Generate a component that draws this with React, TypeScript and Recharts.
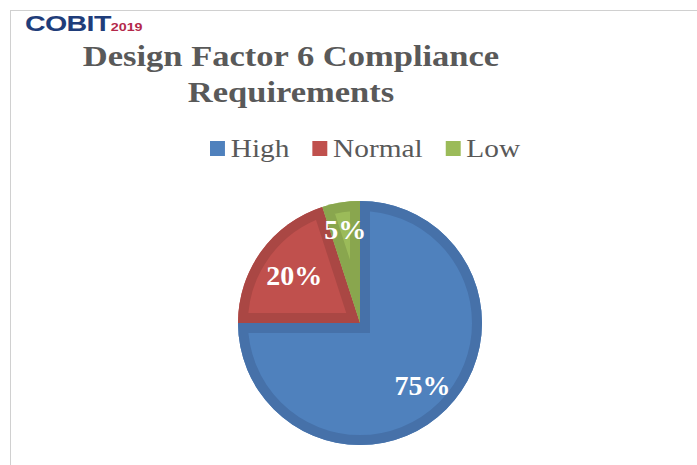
import { PieChart, Pie, Legend, Sector } from "recharts";

const categories = ["High", "Normal", "Low"];
const values = [75, 20, 5];
const fills = ["#4F81BD", "#C0504D", "#9BBB59"];
const bands = ["#4671A9", "#AA4744", "#89A64E"];
// label distance from centre, as a share of the radius (Excel "best fit")
const labelRadius = [0.725, 0.665, 0.775];

const data = categories.map((name, i) => ({ name, value: values[i], fill: fills[i] }));

const serif = "'Liberation Serif', 'Times New Roman', serif";
const RAD = Math.PI / 180;

// draws the darker inner rim of each slice plus the percentage text
const renderSliceLabel = (props: any) => {
  const { cx, cy, outerRadius, startAngle, endAngle, midAngle, index, percent } = props;
  const id = `slice-clip-${index}`;
  const r = outerRadius * labelRadius[index];
  const x = cx + r * Math.cos(-midAngle * RAD);
  const y = cy + r * Math.sin(-midAngle * RAD);
  return (
    <g key={id}>
      <defs>
        <clipPath id={id}>
          <Sector cx={cx} cy={cy} innerRadius={0} outerRadius={outerRadius} startAngle={startAngle} endAngle={endAngle} />
        </clipPath>
      </defs>
      <g clipPath={`url(#${id})`}>
        <Sector
          cx={cx}
          cy={cy}
          innerRadius={0}
          outerRadius={outerRadius}
          startAngle={startAngle}
          endAngle={endAngle}
          fill="none"
          stroke={bands[index]}
          strokeWidth={20}
          strokeLinejoin="miter"
        />
      </g>
      <text x={x} y={y} dy="0.34em" textAnchor="middle" fill="#FFFFFF" fontFamily={serif} fontWeight="bold" fontSize={28}>
        {`${Math.round(percent * 100)}%`}
      </text>
    </g>
  );
};

const LegendContent = () => (
  <div
    style={{
      display: "flex",
      alignItems: "center",
      height: 30,
      lineHeight: "30px",
      fontFamily: serif,
      fontSize: 25.5,
      color: "#595959",
      transform: "scaleX(1.15)",
      transformOrigin: "left center",
      whiteSpace: "nowrap",
    }}
  >
    {categories.map((c, i) => (
      <div key={c} style={{ display: "flex", alignItems: "center", marginRight: 20 }}>
        <span style={{ display: "inline-block", width: 13, height: 15, background: fills[i], marginRight: 5 }} />
        <span>{c}</span>
      </div>
    ))}
  </div>
);

export default function App() {
  return (
    <div style={{ position: "fixed", left: 0, top: 0, width: 697, height: 465, background: "#fff", overflow: "hidden" }}>
      <div
        style={{
          position: "absolute",
          left: 10,
          top: 10,
          width: 720,
          height: 480,
          borderTop: "1px solid #D0D0D0",
          borderLeft: "1px solid #D0D0D0",
        }}
      />
      <div style={{ position: "absolute", left: 25, top: 11, whiteSpace: "nowrap", transform: "scaleX(1.3)", transformOrigin: "left top" }}>
        <span style={{ fontFamily: "'Liberation Sans', Arial, sans-serif", fontWeight: 900, fontSize: 22, color: "#1F3D7A", letterSpacing: -0.5 }}>
          COBIT
        </span>
        <span style={{ fontFamily: "'Liberation Sans', Arial, sans-serif", fontWeight: 700, fontSize: 11, color: "#B4284A" }}>2019</span>
      </div>
      <div
        style={{
          position: "absolute",
          left: 91,
          top: 38,
          width: 400,
          textAlign: "center",
          fontFamily: serif,
          fontWeight: "bold",
          fontSize: 29,
          lineHeight: "36px",
          color: "#595959",
          transform: "scaleX(1.19)",
          transformOrigin: "center top",
        }}
      >
        Design Factor 6 Compliance
        <br />
        Requirements
      </div>
      <PieChart width={697} height={465} margin={{ top: 0, right: 0, bottom: 0, left: 0 }} style={{ position: "absolute", left: 0, top: 0 }}>
        <Legend
          verticalAlign="top"
          content={<LegendContent />}
          wrapperStyle={{ left: 210, top: 133.7, width: 360 }}
        />
        <Pie
          data={data}
          dataKey="value"
          nameKey="name"
          cx={360}
          cy={293}
          outerRadius={122}
          startAngle={90}
          endAngle={-270}
          stroke="none"
          label={renderSliceLabel}
          labelLine={false}
          isAnimationActive={false}
        />
      </PieChart>
    </div>
  );
}
